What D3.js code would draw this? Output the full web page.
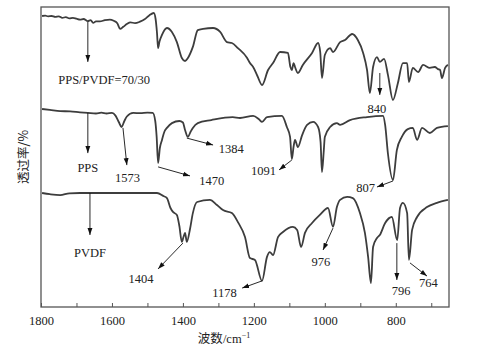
<!DOCTYPE html>
<html><head><meta charset="utf-8">
<script src="https://cdn.jsdelivr.net/npm/d3@7"></script>
<style>body{margin:0;background:#fff}svg{display:block}</style>
</head><body>
<script>
// ---- data ----
const blendSpectrum = [[1797,97.0],[1788,97.1],[1780,96.9],[1770,97.0],[1760,96.7],[1750,96.9],[1740,96.4],[1730,96.6],[1720,96.2],[1710,96.4],[1700,96.1],[1690,95.8],[1680,96.0],[1668,95.3],[1660,95.6],[1653,94.7],[1645,95.2],[1634,95.2],[1620,95.6],[1606,95.8],[1595,95.4],[1585,94.6],[1577,92.7],[1568,93.4],[1558,94.3],[1548,94.9],[1535,94.6],[1521,95.1],[1508,95.9],[1495,97.2],[1482,98.0],[1477,96.0],[1473,91.3],[1470,86.3],[1466,88.5],[1459,90.7],[1445,93.0],[1431,91.7],[1417,88.3],[1403,83.0],[1394,82.0],[1386,83.0],[1372,86.7],[1358,92.3],[1343,92.7],[1315,93.0],[1295,91.7],[1276,88.3],[1262,88.0],[1245,86.3],[1219,83.0],[1211,81.3],[1202,80.0],[1190,77.0],[1177,74.0],[1160,79.0],[1146,81.3],[1126,85.0],[1104,84.7],[1097,80.0],[1093,79.0],[1088,81.3],[1084,80.0],[1076,78.0],[1062,80.7],[1036,84.7],[1019,88.0],[1013,85.0],[1008,76.3],[1000,84.0],[985,86.3],[977,85.0],[957,88.3],[943,89.0],[923,91.0],[907,89.0],[892,84.7],[881,79.0],[873,71.3],[864,80.0],[853,83.3],[845,81.7],[833,82.7],[822,77.3],[808,69.0],[794,74.7],[780,81.3],[768,81.3],[763,75.0],[752,79.7],[737,78.3],[723,80.7],[704,79.7],[690,80.0],[681,79.3],[675,79.0],[670,76.3],[661,79.7],[653,80.7]];

const ppsSpectrum = [[1797,66.0],[1775,65.7],[1746,65.3],[1718,65.2],[1690,64.9],[1668,64.7],[1645,64.5],[1630,64.8],[1615,64.5],[1600,64.7],[1590,63.8],[1580,61.5],[1573,60.0],[1565,62.0],[1558,63.5],[1540,64.7],[1520,64.6],[1500,64.8],[1485,64.7],[1478,62.0],[1474,56.7],[1470,48.0],[1465,53.0],[1459,55.7],[1452,58.5],[1445,59.7],[1431,61.3],[1410,62.0],[1400,61.5],[1394,59.0],[1386,56.7],[1378,58.5],[1372,59.7],[1358,61.3],[1320,62.3],[1260,63.3],[1239,63.0],[1202,63.7],[1185,62.5],[1177,61.7],[1163,63.3],[1121,63.7],[1107,60.0],[1098,56.7],[1093,49.3],[1088,53.5],[1084,55.7],[1076,53.3],[1064,57.3],[1050,60.7],[1033,61.7],[1019,60.0],[1012,55.0],[1008,45.0],[1003,52.0],[1000,56.7],[985,60.0],[966,61.3],[957,60.7],[929,62.3],[881,63.3],[836,63.7],[830,60.7],[822,51.0],[808,42.3],[797,52.3],[783,56.7],[766,59.3],[752,59.7],[740,55.7],[726,59.7],[704,58.0],[684,59.7],[653,60.3]];

const pvdfSpectrum = [[1797,38.0],[1775,37.6],[1746,37.3],[1720,37.9],[1690,38.0],[1662,38.0],[1600,38.0],[1530,38.0],[1473,38.0],[1455,37.0],[1445,36.3],[1435,33.0],[1428,31.7],[1417,30.7],[1410,27.0],[1403,21.7],[1398,23.5],[1394,24.7],[1389,21.7],[1380,26.0],[1372,31.3],[1360,35.0],[1324,35.7],[1304,34.0],[1287,32.3],[1262,31.3],[1245,28.3],[1225,23.3],[1211,16.3],[1197,15.7],[1177,8.7],[1163,16.7],[1155,18.3],[1146,17.3],[1132,23.3],[1118,25.0],[1090,26.7],[1078,25.7],[1067,20.0],[1056,24.7],[1036,28.0],[1014,30.7],[991,33.0],[977,26.7],[966,33.3],[957,35.7],[937,36.7],[921,36.3],[901,31.3],[887,24.7],[878,16.7],[870,8.0],[864,20.0],[853,23.0],[845,24.0],[830,28.0],[811,30.0],[796,22.3],[788,33.0],[780,34.7],[768,31.3],[763,15.7],[754,25.7],[740,30.0],[712,33.3],[684,34.7],[653,35.7]];

const seriesList = [blendSpectrum, ppsSpectrum, pvdfSpectrum];

const tickValues = [1800,1700,1600,1500,1400,1300,1200,1100,1000,900,800,700];
const tickLabels = ["1800","","1600","","1400","","1200","","1000","","800",""];

// annotations: label text, arrow from, arrow to, label anchor (data units)
const annLabels = ["PPS/PVDF=70/30","840","PPS","1573","1470","1384","1091","807","PVDF","1404","1178","976","796","764"];
const annFrom = [[1668,95.0],[845,78.0],[1668,64.7],[1569,59.7],[1470,46.7],[1389,56.3],[1093,49.0],[808,42.0],[1662,38.0],[1400,21.3],[1177,8.7],[977,26.3],[797,21.3],[760,14.7]];
const annTo   = [[1668,81.7],[845,70.7],[1668,51.3],[1558,47.3],[1380,43.7],[1315,54.0],[1129,45.7],[853,40.0],[1662,24.0],[1470,12.7],[1233,6.3],[1005,19.0],[797,9.0],[712,10.3]];
const annText = [[1622,74.3],[853,64.7],[1668,45.0],[1556,41.7],[1319,40.7],[1264,51.3],[1173,44.0],[885,38.3],[1662,16.7],[1518,8.0],[1283,3.3],[1011,13.7],[785,4.0],[708,6.7]];

// ---- drawing ----
const SERIF = "Liberation Serif, Times New Roman, Times, serif";
const W = 485, H = 355;
const m = {l:41, r:36, t:7, b:48};
const svg = d3.select("body").append("svg").attr("width",W).attr("height",H);
const x = d3.scaleLinear().domain([1800,650]).range([m.l, W-m.r]);
const y = d3.scaleLinear().domain([0,100]).range([H-m.b, m.t]);

svg.append("defs").append("marker")
  .attr("id","arr").attr("viewBox","0 0 10 10").attr("refX",10).attr("refY",5)
  .attr("markerWidth",7).attr("markerHeight",7).attr("markerUnits","userSpaceOnUse")
  .attr("orient","auto")
  .append("path").attr("d","M0,1.5L10,5L0,8.5Z").attr("fill","#111");

const line = d3.line().x(d=>x(d[0])).y(d=>y(d[1])).curve(d3.curveMonotoneX);
svg.append("g").selectAll("path").data(seriesList).join("path")
  .attr("d", line).attr("fill","none").attr("stroke","#3d3d3d")
  .attr("stroke-width",1.8).attr("stroke-linejoin","round");

// frame
svg.append("rect").attr("x",m.l).attr("y",m.t)
  .attr("width",W-m.l-m.r).attr("height",H-m.t-m.b)
  .attr("fill","none").attr("stroke","#555").attr("stroke-width",1.3);

const ax = svg.append("g").attr("transform",`translate(0,${H-m.b})`)
  .call(d3.axisBottom(x).tickValues(tickValues).tickSize(-4).tickPadding(9)
    .tickFormat((d,i)=>tickLabels[i]));
ax.select(".domain").remove();
ax.selectAll(".tick line").attr("stroke","#555").attr("stroke-width",1);
ax.selectAll("text").attr("font-family",SERIF)
  .attr("font-size",12.5).attr("fill","#222");

// annotations
const ag = svg.append("g");
annFrom.forEach((f,i)=>{
  ag.append("line").attr("x1",x(f[0])).attr("y1",y(f[1]))
    .attr("x2",x(annTo[i][0])).attr("y2",y(annTo[i][1]))
    .attr("stroke","#111").attr("stroke-width",0.9).attr("marker-end","url(#arr)");
  ag.append("text").attr("x",x(annText[i][0])).attr("y",y(annText[i][1]))
    .attr("text-anchor","middle").attr("font-family",SERIF)
    .attr("font-size",12.5).attr("fill","#222").text(annLabels[i]);
});

// axis titles
const xt = svg.append("text").attr("x",224).attr("y",343).attr("text-anchor","middle")
  .attr("font-size",12.5).attr("fill","#222")
  .attr("font-family","Noto Sans CJK SC, sans-serif");
xt.append("tspan").text("波数");
xt.append("tspan").attr("font-family",SERIF).text("/cm");
xt.append("tspan").attr("font-family",SERIF).attr("font-size",8).attr("dy",-5).text("−1");

svg.append("text").attr("transform","translate(28,157) rotate(-90)")
  .attr("text-anchor","middle").attr("font-size",12.5).attr("fill","#222")
  .attr("font-family","Noto Sans CJK SC, sans-serif").text("透过率/%");
</script>
</body></html>
